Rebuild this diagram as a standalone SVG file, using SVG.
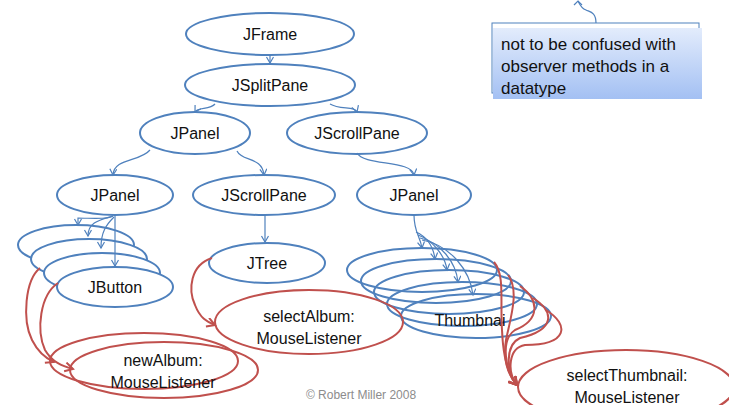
<svg xmlns="http://www.w3.org/2000/svg" width="729" height="405" viewBox="0 0 729 405">
<style>
.b{fill:#fff;stroke:#4f81bd;stroke-width:2}
.bn{fill:none;stroke:#4f81bd;stroke-width:2}
.r{fill:none;stroke:#c0504d;stroke-width:2}
.t{font-family:"Liberation Sans",Arial,sans-serif;font-size:16px;fill:#111;text-anchor:middle}
.n{font-family:"Liberation Sans",Arial,sans-serif;font-size:17px;fill:#111}
.cb{fill:none;stroke:#4f81bd;stroke-width:1.2;marker-end:url(#ab)}
.cr{fill:none;stroke:#c0504d;stroke-width:2;marker-end:url(#ar)}
</style>
<defs>
<marker id="ab" markerWidth="10" markerHeight="10" refX="7" refY="4" orient="auto" markerUnits="userSpaceOnUse">
<path d="M1,0.5 L7,4 L1,7.5" fill="none" stroke="#4f81bd" stroke-width="1.2"/>
</marker>
<marker id="ar" markerWidth="12" markerHeight="12" refX="9" refY="5" orient="auto" markerUnits="userSpaceOnUse">
<path d="M1,0.5 L9,5 L1,9.5" fill="none" stroke="#c0504d" stroke-width="2"/>
</marker>
<linearGradient id="ng" x1="0" y1="0" x2="0" y2="1">
<stop offset="0" stop-color="#e3ecfc"/>
<stop offset="1" stop-color="#a3c0f3"/>
</linearGradient>
</defs>
<rect width="729" height="405" fill="#fff"/>

<g id="note">
<rect x="492" y="23" width="207" height="70" fill="none" stroke="#4f81bd" stroke-width="1"/>
<rect x="493" y="28" width="209" height="71" fill="url(#ng)"/>
<path d="M596 23 C596 12 590 12 586 10 C581 8 580 5 578 1" fill="none" stroke="#4f81bd" stroke-width="1.2"/>
<path d="M574 5 L578 1 L582 5" fill="none" stroke="#4f81bd" stroke-width="1.2"/>
<text class="n" x="501" y="50">not to be confused with</text>
<text class="n" x="501" y="72">observer methods in a</text>
<text class="n" x="501" y="94">datatype</text>
</g>

<g id="jframe"><ellipse class="b" cx="270" cy="34" rx="84" ry="21"/><text class="t" x="270" y="40">JFrame</text></g>
<g id="jsplitpane"><ellipse class="b" cx="270" cy="85" rx="85" ry="21"/><text class="t" x="270" y="91">JSplitPane</text></g>
<g id="jpanel1"><ellipse class="b" cx="195" cy="133" rx="55" ry="21"/><text class="t" x="195" y="139">JPanel</text></g>
<g id="jscrollpane1"><ellipse class="b" cx="357" cy="133" rx="70" ry="21"/><text class="t" x="357" y="139">JScrollPane</text></g>
<g id="jpanel2"><ellipse class="b" cx="115" cy="195" rx="58" ry="20"/><text class="t" x="115" y="201">JPanel</text></g>
<g id="jscrollpane2"><ellipse class="b" cx="264" cy="195" rx="71" ry="20"/><text class="t" x="264" y="201">JScrollPane</text></g>
<g id="jpanel3"><ellipse class="b" cx="414" cy="195" rx="57" ry="20"/><text class="t" x="414" y="201">JPanel</text></g>
<g id="jtree"><ellipse class="b" cx="267" cy="263" rx="58" ry="20"/><text class="t" x="267" y="269">JTree</text></g>

<g id="jbuttons">
<ellipse class="b" cx="76" cy="245" rx="58" ry="20"/>
<ellipse class="b" cx="89" cy="259" rx="58" ry="20"/>
<ellipse class="b" cx="102" cy="273" rx="58" ry="20"/>
<ellipse class="b" cx="115" cy="287" rx="58" ry="20"/>
<text class="t" x="115" y="293">JButton</text>
</g>

<g id="thumbnails">
<ellipse class="bn" cx="422" cy="270" rx="75" ry="22"/>
<ellipse class="bn" cx="436" cy="281" rx="75" ry="22"/>
<ellipse class="bn" cx="449" cy="292" rx="75" ry="22"/>
<ellipse class="bn" cx="462" cy="304" rx="75" ry="22"/>
<ellipse class="bn" cx="476" cy="316" rx="75" ry="22"/>
<text class="t" x="470" y="326">Thumbnai</text>
</g>

<g id="selectalbum"><ellipse class="r" cx="309" cy="322" rx="94" ry="32"/><text class="t" x="309" y="322">selectAlbum:</text><text class="t" x="309" y="344">MouseListener</text></g>
<g id="newalbum">
<ellipse class="r" cx="144" cy="361" rx="94" ry="28"/>
<ellipse class="r" cx="164" cy="370" rx="94" ry="28"/>
<text class="t" x="163" y="366">newAlbum:</text><text class="t" x="163" y="388">MouseListener</text>
</g>
<g id="selectthumbnail"><ellipse class="r" cx="626" cy="387" rx="108" ry="37"/><text class="t" x="627" y="381">selectThumbnail:</text><text class="t" x="627" y="403">MouseListener</text></g>

<g id="connectors">
<path class="cb" d="M270 55 L270 63"/>
<path class="cb" d="M215 104 C210 110 198 107 195 112"/>
<path class="cb" d="M330 104 C340 110 355 106 357 112"/>
<path class="cb" d="M150 150 C140 162 114 158 113 175"/>
<path class="cb" d="M237 151 C242 162 262 156 264 175"/>
<path class="cb" d="M357 153 C364 166 412 160 414 175"/>
<path class="cb" d="M265 215 L265 242"/>
<path class="cb" d="M115 215 L115 266"/>
<path class="cb" d="M113 216 C108 220 90 218 78 218 L78 225"/>
<path class="cb" d="M113 216 C100 220 88 222 88 236"/>
<path class="cb" d="M114 217 C106 225 101 232 101 248"/>
<path class="cb" d="M414 215 C414 232 420 236 422 248"/>
<path class="cb" d="M416 232 C425 236 433 245 435 259"/>
<path class="cb" d="M418 235 C432 240 445 255 447 270"/>
<path class="cb" d="M420 238 C440 242 456 262 458 282"/>
<path class="cb" d="M422 240 C450 245 470 270 473 295"/>
<path class="cr" d="M212 258 C190 265 188 290 195 305 C200 318 207 322 215 325"/>
<path class="cr" d="M40 268 C25 280 22 320 32 340 C38 352 45 358 54 362"/>
<path class="cr" d="M58 283 C40 295 36 330 45 350 C52 362 62 366 73 369"/>
<path class="cr" d="M494 262 C505 275 500 300 502 330 C503 355 508 375 517 385"/>
<path class="cr" d="M508 275 C520 290 510 320 506 340 C503 360 508 375 517 385"/>
<path class="cr" d="M520 286 C540 300 540 320 515 330 C500 340 505 370 517 385"/>
<path class="cr" d="M533 298 C555 312 555 330 520 338 C505 345 506 372 517 385"/>
<path class="cr" d="M546 310 C570 325 568 345 525 345 C508 348 507 372 517 385"/>
</g>
<text x="361" y="399" font-family="Liberation Sans,Arial,sans-serif" font-size="12" fill="#8c8c8c" text-anchor="middle">© Robert Miller 2008</text>
</svg>
